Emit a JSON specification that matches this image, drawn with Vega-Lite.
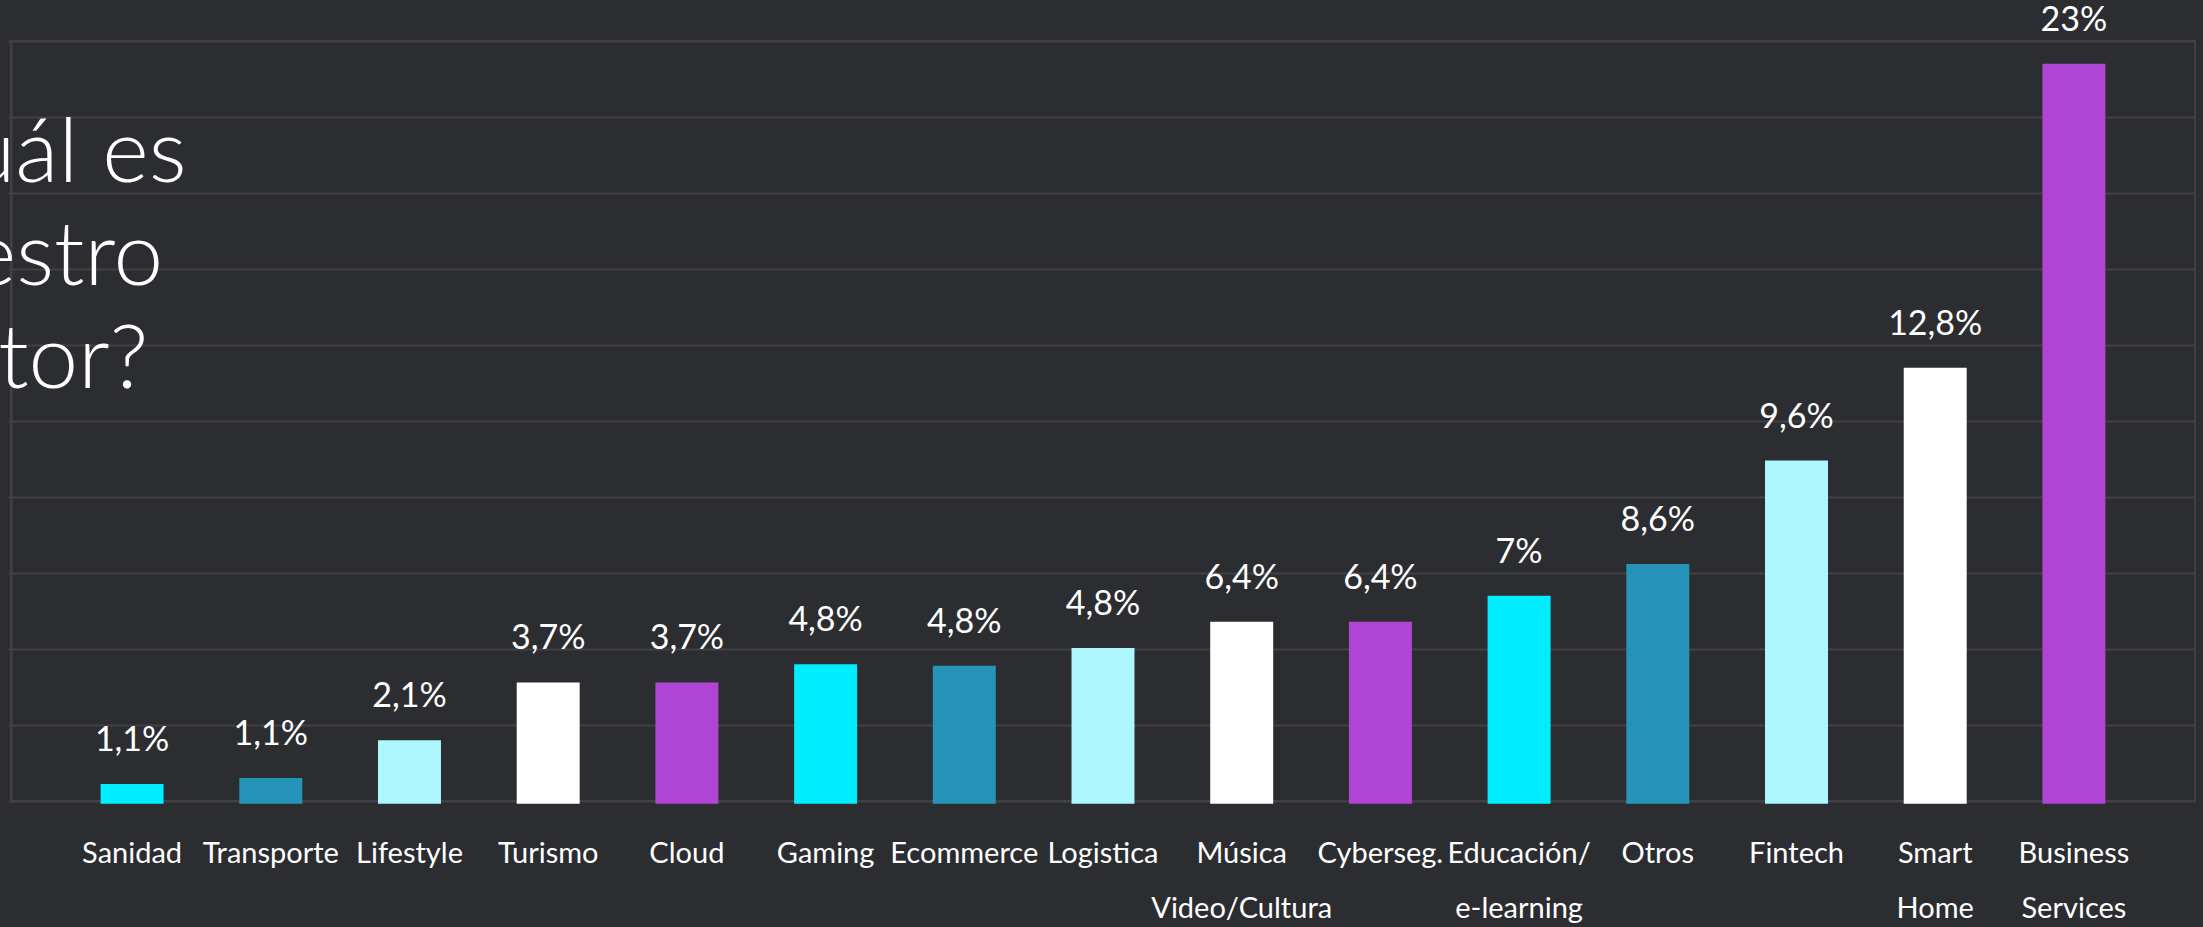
{
  "$schema": "https://vega.github.io/schema/vega-lite/v6.json",
  "width": 2184,
  "height": 760,
  "autosize": {"type": "none"},
  "padding": {"left": 11, "top": 41, "right": 8, "bottom": 126},
  "background": "#2c2d31",
  "config": {
    "view": {"stroke": "#404146", "strokeWidth": 2},
    "font": "Lato"
  },
  "title": {
    "text": ["¿Cuál es", "nuestro", "sector?"],
    "anchor": "start",
    "frame": "group",
    "orient": "top",
    "offset": 0,
    "dx": -139,
    "dy": 473,
    "align": "left",
    "baseline": "alphabetic",
    "fontSize": 89,
    "fontWeight": 300,
    "font": "Lato",
    "color": "#ffffff",
    "lineHeight": 103
  },
  "data": {
    "values": [
      {"sector": "Sanidad", "valor": 0.56, "etiqueta": "1,1%"},
      {"sector": "Transporte", "valor": 0.76, "etiqueta": "1,1%"},
      {"sector": "Lifestyle", "valor": 2.0, "etiqueta": "2,1%"},
      {"sector": "Turismo", "valor": 3.9, "etiqueta": "3,7%"},
      {"sector": "Cloud", "valor": 3.9, "etiqueta": "3,7%"},
      {"sector": "Gaming", "valor": 4.5, "etiqueta": "4,8%"},
      {"sector": "Ecommerce", "valor": 4.45, "etiqueta": "4,8%"},
      {"sector": "Logistica", "valor": 5.03, "etiqueta": "4,8%"},
      {"sector": "Música\nVideo/Cultura", "valor": 5.9, "etiqueta": "6,4%"},
      {"sector": "Cyberseg.", "valor": 5.9, "etiqueta": "6,4%"},
      {"sector": "Educación/\ne-learning", "valor": 6.75, "etiqueta": "7%"},
      {"sector": "Otros", "valor": 7.8, "etiqueta": "8,6%"},
      {"sector": "Fintech", "valor": 11.2, "etiqueta": "9,6%"},
      {"sector": "Smart\nHome", "valor": 14.25, "etiqueta": "12,8%"},
      {"sector": "Business\nServices", "valor": 24.25, "etiqueta": "23%"}
    ]
  },
  "encoding": {
    "x": {
      "field": "sector",
      "type": "nominal",
      "sort": null,
      "scale": {"paddingInner": 0.546, "paddingOuter": 0.646},
      "axis": {
        "title": null,
        "domain": false,
        "ticks": false,
        "labelAngle": 0,
        "labelFont": "Lato",
        "labelFontSize": 29,
        "labelColor": "#ffffff",
        "labelBaseline": "alphabetic",
        "labelPadding": 61,
        "labelLineHeight": 55,
        "labelLimit": 0,
        "labelOverlap": false,
        "labelExpr": "split(datum.label, '\\n')"
      }
    },
    "y": {
      "field": "valor",
      "type": "quantitative",
      "scale": {"domain": [0, 25], "nice": false},
      "axis": {
        "title": null,
        "labels": false,
        "values": [0, 2.5, 5, 7.5, 10, 12.5, 15, 17.5, 20, 22.5, 25],
        "grid": true,
        "gridColor": "#404146",
        "gridWidth": 2,
        "domain": true,
        "domainColor": "#404146",
        "domainWidth": 2,
        "ticks": true,
        "tickSize": 3,
        "tickColor": "#404146",
        "tickWidth": 2
      }
    }
  },
  "layer": [
    {
      "mark": {"type": "bar"},
      "encoding": {
        "y2": {"datum": -0.09},
        "color": {
          "field": "sector",
          "type": "nominal",
          "legend": null,
          "scale": {
            "domain": ["Sanidad", "Transporte", "Lifestyle", "Turismo", "Cloud", "Gaming", "Ecommerce", "Logistica", "Música\nVideo/Cultura", "Cyberseg.", "Educación/\ne-learning", "Otros", "Fintech", "Smart\nHome", "Business\nServices"],
            "range": ["#00eeff", "#2694b8", "#abf6ff", "#ffffff", "#b045d5", "#00eeff", "#2694b8", "#abf6ff", "#ffffff", "#b045d5", "#00eeff", "#2694b8", "#abf6ff", "#ffffff", "#b045d5"]
          }
        }
      }
    },
    {
      "mark": {"type": "text", "dy": -33, "baseline": "alphabetic", "fontSize": 34, "color": "#ffffff", "font": "Lato"},
      "encoding": {
        "text": {"field": "etiqueta"}
      }
    }
  ]
}
